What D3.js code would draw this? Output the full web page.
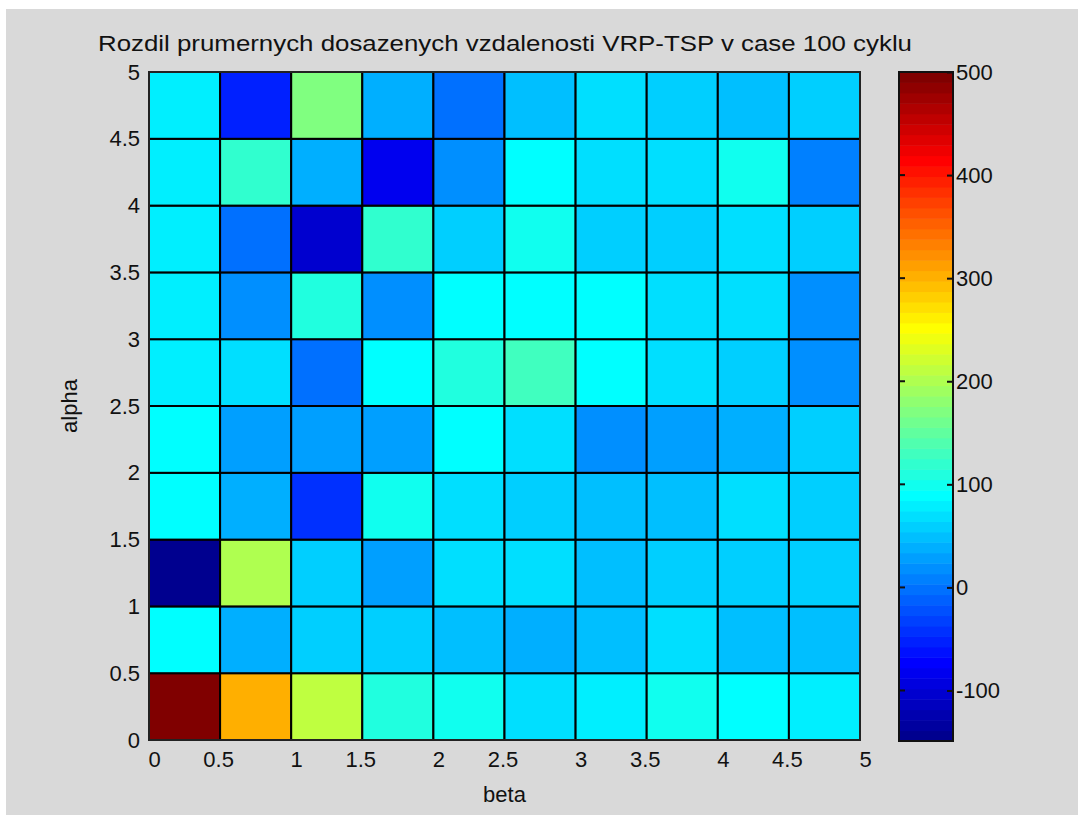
<!DOCTYPE html>
<html>
<head>
<meta charset="utf-8">
<script src="https://cdn.jsdelivr.net/npm/d3@7"></script>
<style>
  html, body { margin: 0; padding: 0; background: #ffffff; }
  svg text { font-family: "Liberation Sans", Arial, sans-serif; fill: #111; }
</style>
</head>
<body>
<svg id="chart" width="1085" height="823"></svg>
<script>
// Grid edges along both parameters (beta on x, alpha on y)
const betaEdges  = [0, 0.5, 1, 1.5, 2, 2.5, 3, 3.5, 4, 4.5, 5];
const alphaEdges = [0, 0.5, 1, 1.5, 2, 2.5, 3, 3.5, 4, 4.5, 5];
const axisTickLabels = ["0", "0.5", "1", "1.5", "2", "2.5", "3", "3.5", "4", "4.5", "5"];

// Difference of mean reached distances (VRP - TSP), one row per alpha cell,
// columns are beta = 0, 0.5, ..., 4.5
const alpha00 = [500, 302, 211, 110,  99,  69,  79,  99,  89,  79];
const alpha05 = [ 89,  39,  59,  59,  49,  39,  49,  69,  49,  49];
const alpha10 = [-149, 201, 59,  28,  69,  69,  49,  59,  59,  59];
const alpha15 = [ 89,  39, -42,  99,  69,  59,  49,  49,  69,  59];
const alpha20 = [ 89,  28,  28,  28,  89,  69,  18,  28,  39,  59];
const alpha25 = [ 79,  69,  -2,  89, 110, 130,  89,  69,  59,  18];
const alpha30 = [ 79,  18, 110,  18,  89,  89,  89,  69,  69,  18];
const alpha35 = [ 79,  -2, -103, 120, 59,  99,  59,  59,  69,  59];
const alpha40 = [ 79, 120,  39, -83,  18,  89,  69,  69,  99,   8];
const alpha45 = [ 79, -53, 170,  39,  -2,  49,  69,  59,  49,  59];
const valueRows = [alpha00, alpha05, alpha10, alpha15, alpha20,
                   alpha25, alpha30, alpha35, alpha40, alpha45];

// Colour limits and colorbar ticks
const colorLimits = [-149, 500];
const colorbarTicks = [-100, 0, 100, 200, 300, 400, 500];
const colorbarTickLabels = ["-100", "0", "100", "200", "300", "400", "500"];

const titleText = "Rozdil prumernych dosazenych vzdalenosti VRP-TSP v case 100 cyklu";

// 64-step jet colormap
function jet64() {
  const cols = [];
  const c = v => Math.round(Math.max(0, Math.min(1, v)) * 255);
  for (let i = 0; i < 64; i++) {
    let r, g, b;
    if (i < 8)        { r = 0; g = 0; b = (i + 9) / 16; }
    else if (i < 24)  { r = 0; g = (i - 7) / 16; b = 1; }
    else if (i < 40)  { r = (i - 23) / 16; g = 1; b = 1 - (i - 23) / 16; }
    else if (i < 56)  { r = 1; g = 1 - (i - 39) / 16; b = 0; }
    else              { r = 1 - (i - 55) / 16; g = 0; b = 0; }
    cols.push(`rgb(${c(r)},${c(g)},${c(b)})`);
  }
  return cols;
}
const jet = jet64();

const svg = d3.select("#chart");
const FONT = 22;

// figure background
svg.append("rect").attr("x", 6).attr("y", 9).attr("width", 1072).attr("height", 806)
  .attr("fill", "#d9d9d9");

const plot = { left: 149, right: 860, top: 72, bottom: 740 };
const x = d3.scaleLinear().domain([0, 5]).range([plot.left, plot.right]);
const y = d3.scaleLinear().domain([0, 5]).range([plot.bottom, plot.top]);
const color = d3.scaleQuantize().domain(colorLimits).range(jet);

// cells
const cells = [];
valueRows.forEach((row, i) => {
  row.forEach((v, j) => {
    cells.push({ a0: alphaEdges[i], a1: alphaEdges[i + 1], b0: betaEdges[j], b1: betaEdges[j + 1], v });
  });
});

svg.append("g").selectAll("rect").data(cells).join("rect")
  .attr("x", d => x(d.b0))
  .attr("y", d => y(d.a1))
  .attr("width", d => x(d.b1) - x(d.b0))
  .attr("height", d => y(d.a0) - y(d.a1))
  .attr("fill", d => color(d.v))
  .attr("stroke", "#000")
  .attr("stroke-width", 2);

// axes frame
svg.append("rect")
  .attr("x", plot.left).attr("y", plot.top)
  .attr("width", plot.right - plot.left).attr("height", plot.bottom - plot.top)
  .attr("fill", "none").attr("stroke", "#222").attr("stroke-width", 2);

// x axis
const xAxis = svg.append("g").attr("transform", `translate(0,${plot.bottom})`)
  .call(d3.axisBottom(x).tickValues(betaEdges).tickSize(0).tickPadding(11)
    .tickFormat((d, i) => axisTickLabels[i]));
xAxis.select(".domain").remove();
xAxis.selectAll("text").attr("font-size", FONT).attr("fill", "#111")
  .attr("font-family", "Liberation Sans, Arial, sans-serif")
  .attr("dx", (d, i) => (i % 2 === 0 ? 5 : -2));

// y axis
const yAxis = svg.append("g").attr("transform", `translate(${plot.left},0)`)
  .call(d3.axisLeft(y).tickValues(alphaEdges).tickSize(0).tickPadding(9)
    .tickFormat((d, i) => axisTickLabels[i]));
yAxis.select(".domain").remove();
yAxis.selectAll("text").attr("font-size", FONT).attr("fill", "#111")
  .attr("font-family", "Liberation Sans, Arial, sans-serif");

// axis titles
svg.append("text").attr("x", x(2.5)).attr("y", 802)
  .attr("text-anchor", "middle").attr("font-size", FONT).text("beta");
svg.append("text")
  .attr("transform", `translate(77,${y(2.5)}) rotate(-90)`)
  .attr("text-anchor", "middle").attr("font-size", FONT).text("alpha");

// title
svg.append("text").attr("x", 98).attr("y", 51)
  .attr("font-size", 22)
  .attr("textLength", 814).attr("lengthAdjust", "spacingAndGlyphs")
  .text(titleText);

// colorbar
const cb = { left: 899, right: 953, top: 72, bottom: 741 };
const cy = d3.scaleLinear().domain(colorLimits).range([cb.bottom, cb.top]);
const step = (colorLimits[1] - colorLimits[0]) / jet.length;
svg.append("g").selectAll("rect").data(jet).join("rect")
  .attr("x", cb.left)
  .attr("y", (d, i) => cy(colorLimits[0] + (i + 1) * step))
  .attr("width", cb.right - cb.left)
  .attr("height", (d, i) => cy(colorLimits[0] + i * step) - cy(colorLimits[0] + (i + 1) * step) + 0.5)
  .attr("fill", d => d);
svg.append("rect")
  .attr("x", cb.left).attr("y", cb.top)
  .attr("width", cb.right - cb.left).attr("height", cb.bottom - cb.top)
  .attr("fill", "none").attr("stroke", "#111").attr("stroke-width", 2);

const cbAxis = svg.append("g").attr("transform", `translate(${cb.right},0)`)
  .call(d3.axisRight(cy).tickValues(colorbarTicks).tickSize(-6).tickPadding(11)
    .tickFormat((d, i) => colorbarTickLabels[i]));
cbAxis.select(".domain").remove();
cbAxis.selectAll("line").attr("stroke", "#111").attr("stroke-width", 2);
cbAxis.selectAll("text").attr("font-size", FONT).attr("fill", "#111")
  .attr("font-family", "Liberation Sans, Arial, sans-serif").attr("x", 3);
// left-side tick marks of the colorbar
svg.append("g").selectAll("line").data(colorbarTicks).join("line")
  .attr("x1", cb.left).attr("x2", cb.left + 6)
  .attr("y1", d => cy(d)).attr("y2", d => cy(d))
  .attr("stroke", "#111").attr("stroke-width", 2);
</script>
</body>
</html>
